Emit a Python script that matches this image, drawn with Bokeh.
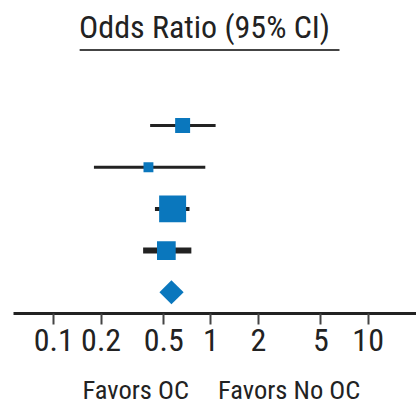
from bokeh.plotting import figure
from bokeh.layouts import column
from bokeh.models import Range1d, FixedTicker, ColumnDataSource
from bokeh.core.properties import value
from bokeh.embed import file_html
from bokeh.resources import INLINE
import numpy as np

# Study-level odds ratios with 95% confidence intervals
odds_ratio = [0.66, 0.40, 0.57, 0.52]
ci_lower = [0.41, 0.18, 0.44, 0.37]
ci_upper = [1.07, 0.92, 0.73, 0.75]
weight_pct = [16, 7, 52, 25]

# Pooled estimate
pooled_or = 0.56
pooled_lower = 0.47
pooled_upper = 0.67

tick_values = [0.1, 0.2, 0.5, 1, 2, 5, 10]
tick_labels = ["0.1", "0.2", "0.5", "1", "2", "5", "10"]

title_text = "Odds Ratio (95% CI)"
favors_left = "Favors OC"
favors_right = "Favors No OC"

FONT = "Roboto Condensed, Liberation Sans Narrow, DejaVu Sans Condensed, sans-serif"
INK = "#222222"
BLUE = "#0a77bd"

rows = list(range(1, len(odds_ratio) + 1))
pooled_row = len(odds_ratio) + 1

x_range = Range1d(0.0554, 20.3)


def clean(fig):
    fig.outline_line_color = None
    fig.xgrid.visible = False
    fig.ygrid.visible = False
    fig.background_fill_color = "white"
    fig.border_fill_color = "white"


p = figure(width=416, height=370, x_axis_type="log",
           x_range=x_range, y_range=Range1d(5.51, -2.0),
           y_axis_location=None, toolbar_location=None, output_backend="svg",
           min_border_left=13, min_border_right=0, min_border_top=0,
           min_border_bottom=57)
clean(p)

# Bottom log axis
ax = p.xaxis[0]
ax.ticker = FixedTicker(ticks=tick_values, minor_ticks=[])
ax.major_label_overrides = {v: s for v, s in zip(tick_values, tick_labels)}
ax.axis_line_width = 3
ax.axis_line_color = INK
ax.major_tick_line_color = "#444444"
ax.major_tick_line_width = 2
ax.major_tick_in = 0
ax.major_tick_out = 11
ax.minor_tick_line_color = None
ax.major_label_text_font = FONT
ax.major_label_text_font_size = "32px"
ax.major_label_text_color = INK
ax.major_label_standoff = 4

# Header with underline
p.text(x=[0.91], y=[-1.37], text=[title_text], text_align="center",
       text_baseline="alphabetic", text_font=value(FONT),
       text_font_size="32px", text_color=INK)
p.segment(x0=[0.146], y0=[-0.81], x1=[6.57], y1=[-0.81],
          line_color="#444444", line_width=2)

# Confidence interval whiskers
line_widths = [3, 3, 4, 6]
ci_src = ColumnDataSource(dict(y=rows, lo=ci_lower, hi=ci_upper, lw=line_widths))
p.segment(x0="lo", y0="y", x1="hi", y1="y", source=ci_src,
          line_color=INK, line_width="lw")

# Point estimates, square area proportional to study weight
sizes = [3.74 * np.sqrt(w) for w in weight_pct]
pt_src = ColumnDataSource(dict(x=odds_ratio, y=rows, s=sizes))
p.scatter(x="x", y="y", size="s", marker="square", source=pt_src,
          fill_color=BLUE, line_color=None)

# Pooled diamond spanning the pooled confidence interval
h = 0.29
p.patch(x=[pooled_lower, pooled_or, pooled_upper, pooled_or],
        y=[pooled_row, pooled_row - h, pooled_row, pooled_row + h],
        fill_color=BLUE, line_color=None)

# Strip beneath the axis with the direction captions, on the same x scale
f = figure(width=416, height=34, x_axis_type="log", x_range=x_range,
           y_range=Range1d(0, 34), x_axis_location=None, y_axis_location=None,
           toolbar_location=None, output_backend="svg",
           min_border_left=13, min_border_right=0, min_border_top=0,
           min_border_bottom=0)
clean(f)
f.text(x=[1], y=[15], text=[favors_left], text_align="right", text_baseline="middle",
       x_offset=-22, text_font=value(FONT), text_font_size="26.5px", text_color=INK)
f.text(x=[1], y=[15], text=[favors_right], text_align="left", text_baseline="middle",
       x_offset=7, text_font=value(FONT), text_font_size="26.5px", text_color=INK)

layout = column(p, f, spacing=0)
open("out.html", "w").write(file_html(layout, INLINE))
